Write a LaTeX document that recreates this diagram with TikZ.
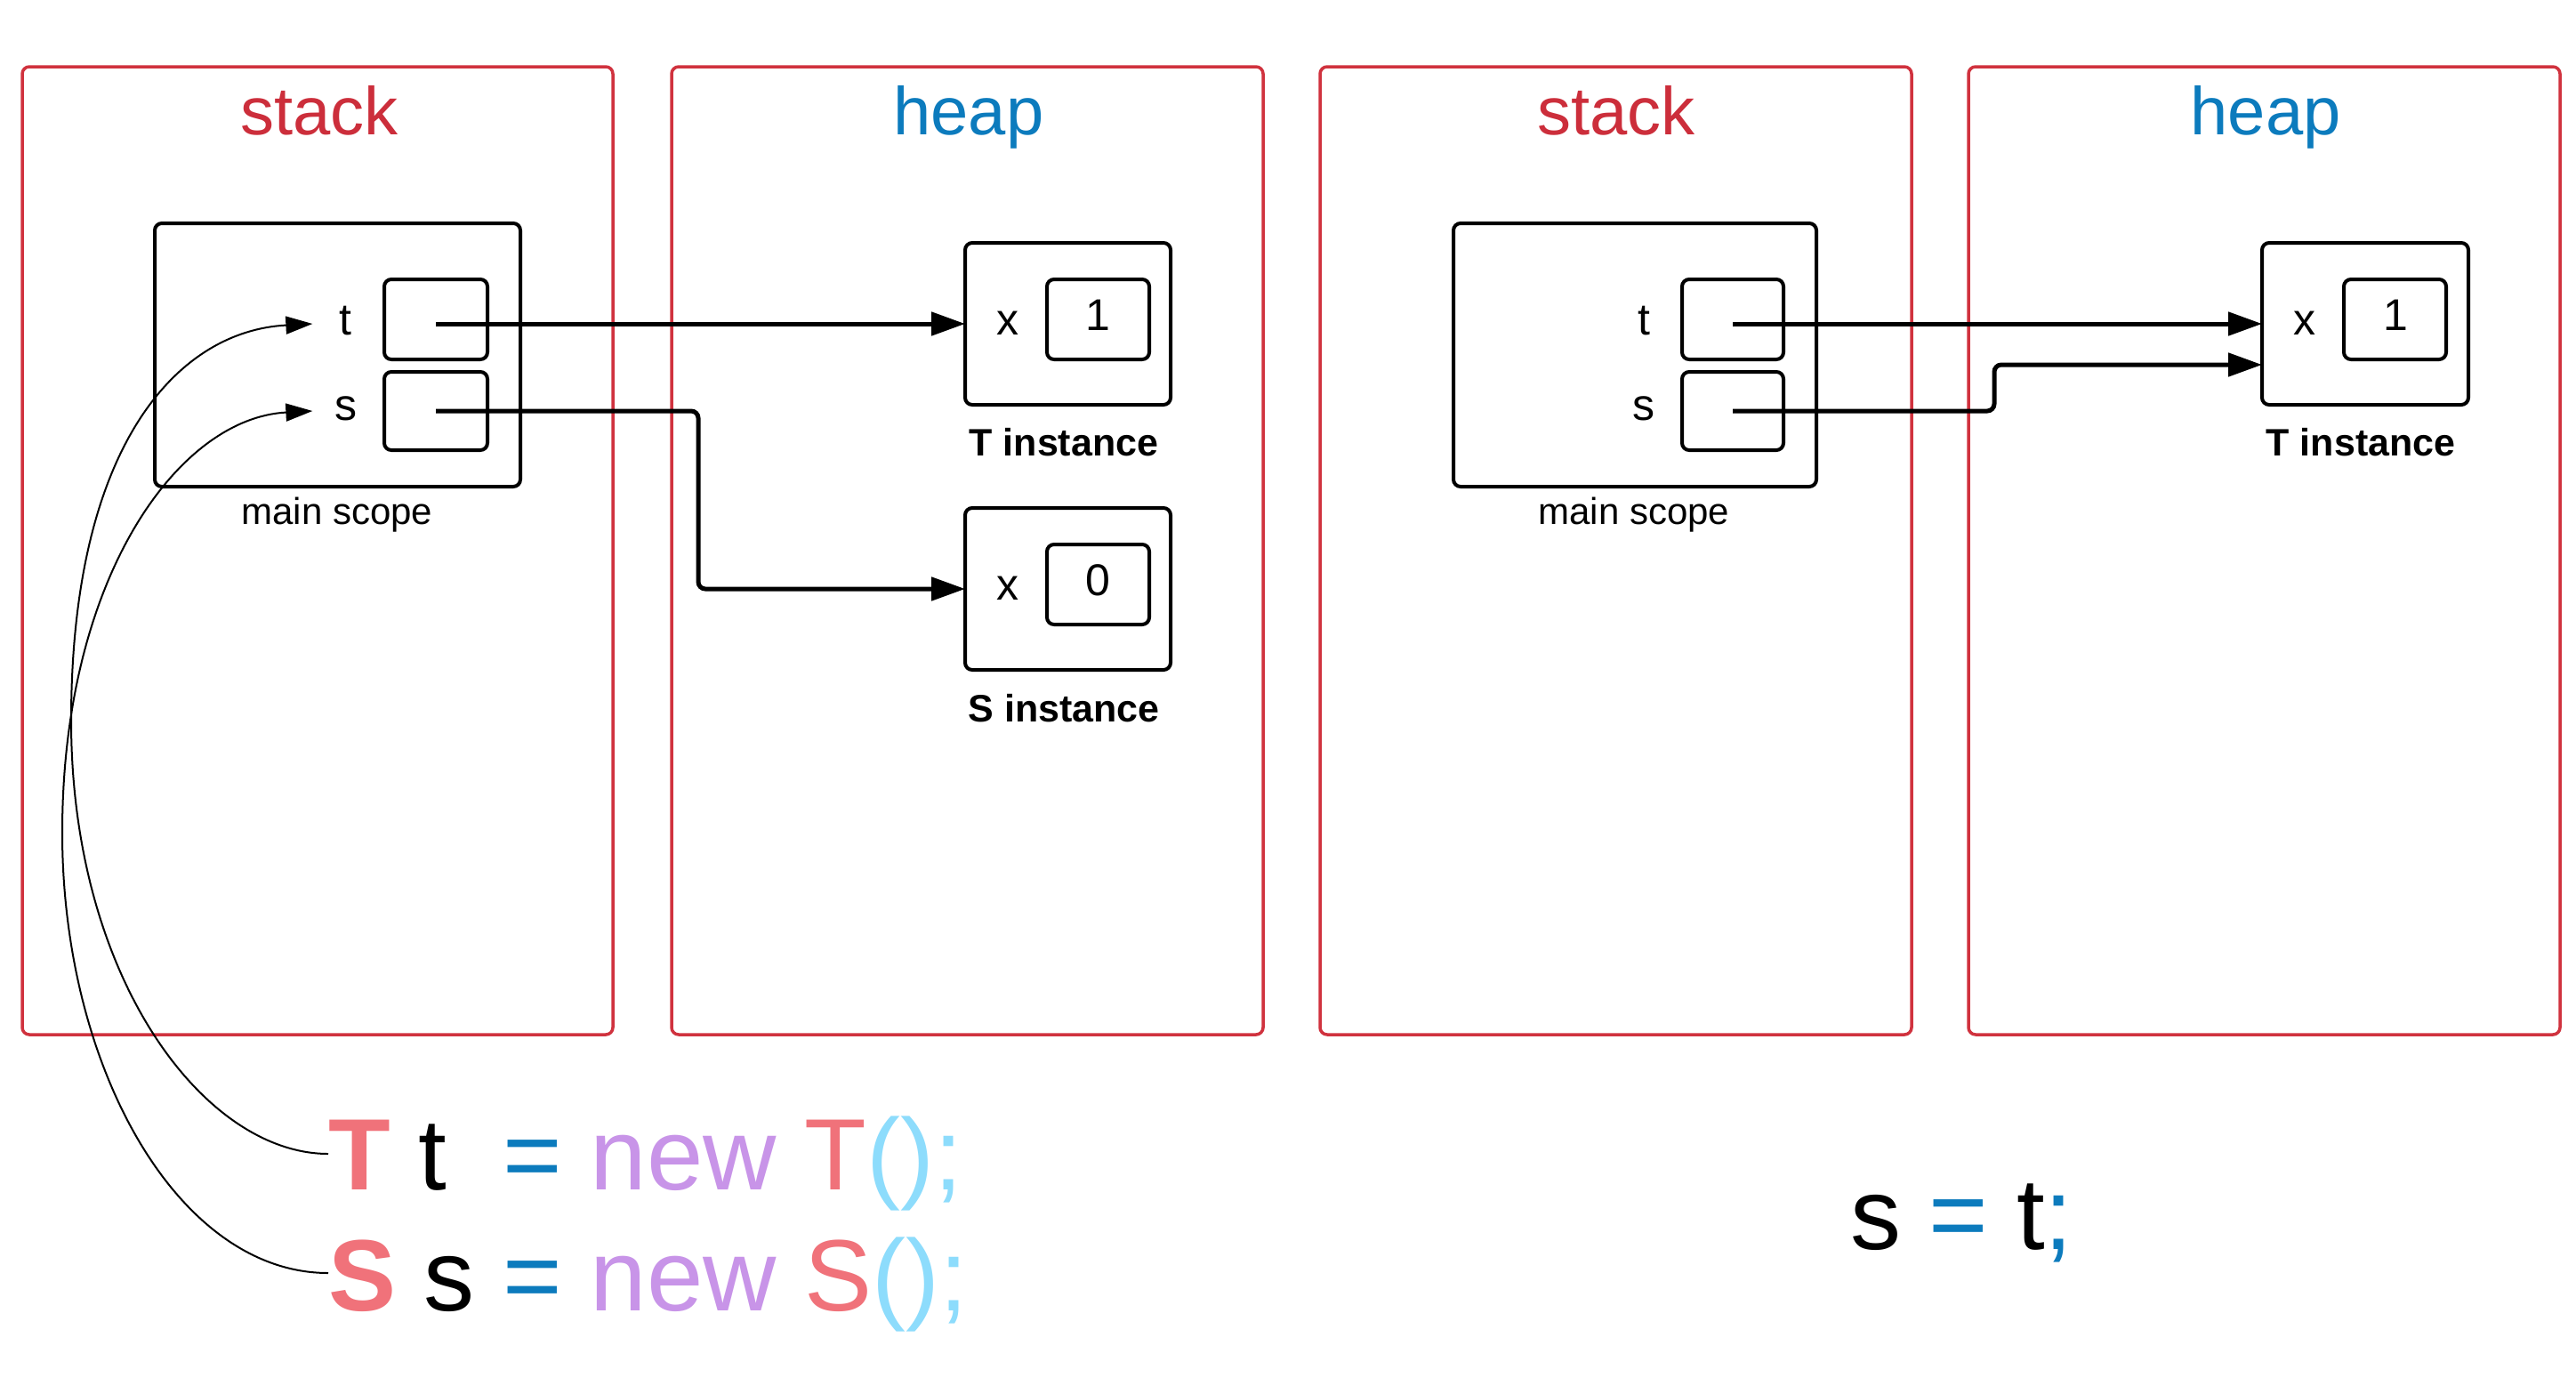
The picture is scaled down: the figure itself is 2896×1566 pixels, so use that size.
\documentclass[tikz,border=0pt]{standalone}
\usepackage{fontspec}
\setmainfont{Liberation Sans}
\usetikzlibrary{arrows.meta,calc}
\definecolor{framered}{HTML}{D0323E}
\definecolor{stackred}{HTML}{CC2E3B}
\definecolor{heapblue}{HTML}{0C7BBD}
\definecolor{pinkT}{HTML}{F0727A}
\definecolor{newpurple}{HTML}{C894E8}
\definecolor{parenblue}{HTML}{8DDCFC}
\tikzset{
  frame/.style={draw=framered, line width=3.5pt, rounded corners=8pt, inner sep=0pt, outer sep=0pt},
  box/.style={draw=black, line width=4pt, rounded corners=8pt, inner sep=0pt, outer sep=0pt},
  ptr/.style={line width=5pt, -{Triangle[length=38pt,width=26pt]}},
  curv/.style={line width=2pt, -{Triangle[length=30pt,width=20pt]}},
  titlestack/.style={anchor=base, inner sep=0pt, text=stackred, font=\fontsize{76pt}{80pt}\selectfont},
  titleheap/.style={anchor=base, inner sep=0pt, text=heapblue, font=\fontsize{76pt}{80pt}\selectfont},
  varlab/.style={anchor=base, inner sep=0pt, font=\fontsize{50pt}{54pt}\selectfont},
  scopelab/.style={anchor=base, inner sep=0pt, font=\fontsize{42pt}{46pt}\selectfont},
  instlab/.style={anchor=base, inner sep=0pt, font=\bfseries\fontsize{43pt}{47pt}\selectfont},
  code/.style={anchor=base west, inner sep=0pt, font=\fontsize{114pt}{120pt}\selectfont}
}
\begin{document}
\begin{tikzpicture}[x=1pt,y=-1pt]
\fill[white] (0,0) rectangle (2896,1566);
\useasboundingbox (0,0) rectangle (2896,1566);

% frames
\node[frame, minimum width=664pt, minimum height=1088pt] (stackA) at (357,619) {};
\node[frame, minimum width=665pt, minimum height=1088pt] (heapA) at (1087.5,619) {};
\node[frame, minimum width=665pt, minimum height=1088pt] (stackB) at (1816.5,619) {};
\node[frame, minimum width=665pt, minimum height=1088pt] (heapB) at (2545.5,619) {};
\node[titlestack] (stackAt) at (359,151) {stack};
\node[titleheap] (heapAt) at (1089,151) {heap};
\node[titlestack] (stackBt) at (1817,151) {stack};
\node[titleheap] (heapBt) at (2547,151) {heap};

% left stack
\node[box, minimum width=411pt, minimum height=296pt] (msA) at (379.5,399) {};
\node[box, minimum width=116pt, minimum height=90pt] (tslotA) at (490,359) {};
\node[box, minimum width=116pt, minimum height=88pt] (sslotA) at (490,462) {};
\node[varlab] (tlabA) at (388.5,376) {t};
\node[varlab] (slabA) at (388.5,472) {s};
\node[scopelab] (msAl) at (379,589) {main scope};

% left heap
\node[box, minimum width=231pt, minimum height=182pt] (tinstA) at (1200.5,364) {};
\node[box, minimum width=115pt, minimum height=90pt] (tvalA) at (1234.5,359) {};
\node[varlab] (txA) at (1133,376) {x};
\node[varlab] (t1A) at (1234.5,371) {1};
\node[instlab] (tinstAl) at (1196,512) {T instance};

\node[box, minimum width=231pt, minimum height=182pt] (sinstA) at (1200.5,662) {};
\node[box, minimum width=115pt, minimum height=90pt] (svalA) at (1234.5,657) {};
\node[varlab] (sxA) at (1133,674) {x};
\node[varlab] (s0A) at (1234.5,669) {0};
\node[instlab] (sinstAl) at (1196,811) {S instance};

% right stack
\node[box, minimum width=408pt, minimum height=296pt] (msB) at (1838,399) {};
\node[box, minimum width=114pt, minimum height=90pt] (tslotB) at (1948,359) {};
\node[box, minimum width=114pt, minimum height=88pt] (sslotB) at (1948,462) {};
\node[varlab] (tlabB) at (1848,376) {t};
\node[varlab] (slabB) at (1848,472) {s};
\node[scopelab] (msBl) at (1837,589) {main scope};

% right heap
\node[box, minimum width=232pt, minimum height=182pt] (tinstB) at (2659,364) {};
\node[box, minimum width=115pt, minimum height=90pt] (tvalB) at (2692.5,359) {};
\node[varlab] (txB) at (2591,376) {x};
\node[varlab] (t1B) at (2693,371) {1};
\node[instlab] (tinstBl) at (2654,512) {T instance};

% pointers
\draw[ptr] (tslotA.center |- tinstA.west) -- (tinstA.west);
\coordinate (bendA) at (785,465);
\draw[ptr, rounded corners=8pt] (sslotA.center) -- (sslotA.center -| bendA) |- (sinstA.west);
\draw[ptr] (tslotB.center |- tinstB.west) -- (tinstB.west);
\coordinate (bendB) at (2242,410);
\draw[ptr, rounded corners=8pt] (sslotB.center) -| (bendB) -- (bendB -| tinstB.west);

% code
\node[code] (codeT) at (369,1337) {\textcolor{pinkT}{\bfseries T} t\ \ \textcolor{heapblue}{=} \textcolor{newpurple}{new} \textcolor{pinkT}{T}\textcolor{parenblue}{();}};
\node[code] (codeS) at (369,1473) {\textcolor{pinkT}{\bfseries S} s \textcolor{heapblue}{=} \textcolor{newpurple}{new} \textcolor{pinkT}{S}\textcolor{parenblue}{();}};
\node[code] (codeB) at (2080,1404) {s \textcolor{heapblue}{=} t\textcolor{heapblue}{;}};

% curved connectors
\coordinate (ctA) at ([yshift=40pt]codeT.base west);
\coordinate (csA) at ([yshift=42pt]codeS.base west);
\coordinate (tipT) at ([xshift=-30pt]tlabA.west |- tinstA.west);
\coordinate (tipS) at (tipT |- sslotA.center);
\draw[curv] (ctA) .. controls (230,1297) and (80,1100) .. (80,810)
  .. controls (80,500) and (200,372) .. (tipT);
\draw[curv] (csA) .. controls (200,1431) and (70,1200) .. (70,936)
  .. controls (70,650) and (200,470) .. (tipS);
\end{tikzpicture}
\end{document}
